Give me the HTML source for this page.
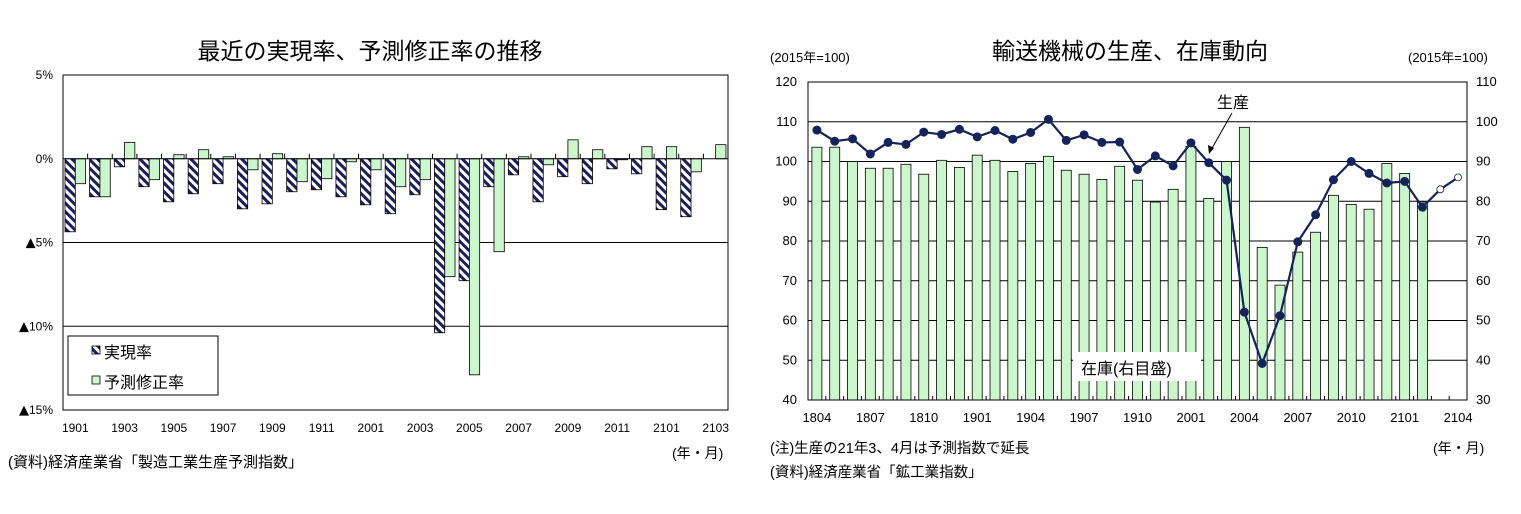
<!DOCTYPE html>
<html><head><meta charset="utf-8"><style>
body{margin:0;background:#fff;}
svg text{font-family:"Liberation Sans","Noto Sans CJK JP",sans-serif;fill:#000;}
</style></head><body>
<svg id="c" width="1521" height="509" xmlns="http://www.w3.org/2000/svg">
<defs>
<pattern id="hatch" patternUnits="userSpaceOnUse" width="6" height="6" patternTransform="rotate(45)">
<rect width="6" height="6" fill="#fff"/><rect width="6" height="3" fill="#1a1f5c"/>
</pattern>
</defs>
<g id="left"></g>
<g id="right"></g>
</svg>
<script>
// ---- Left chart data ----
const lCats = ['1901','1902','1903','1904','1905','1906','1907','1908','1909','1910','1911','1912','2001','2002','2003','2004','2005','2006','2007','2008','2009','2010','2011','2012','2101','2102','2103'];
const lReal = [-4.36,-2.27,-0.48,-1.67,-2.57,-2.09,-1.49,-2.99,-2.69,-1.97,-1.85,-2.27,-2.75,-3.28,-2.15,-10.39,-7.28,-1.67,-0.96,-2.57,-1.07,-1.49,-0.6,-0.9,-3.04,-3.46,null];
const lRev = [-1.49,-2.27,0.98,-1.25,0.24,0.54,0.12,-0.66,0.30,-1.37,-1.19,-0.18,-0.66,-1.67,-1.25,-7.04,-12.9,-5.55,0.12,-0.36,1.13,0.54,-0.06,0.72,0.72,-0.78,0.84];
const lTicks = [5,0,-5,-10,-15];
const lTickLabels = ['5%','0%','▲5%','▲10%','▲15%'];
const lXLabels = ['1901','1903','1905','1907','1909','1911','2001','2003','2005','2007','2009','2011','2101','2103'];
// ---- Right chart data ----
const rCats = ['1804','1805','1806','1807','1808','1809','1810','1811','1812','1901','1902','1903','1904','1905','1906','1907','1908','1909','1910','1911','1912','2001','2002','2003','2004','2005','2006','2007','2008','2009','2010','2011','2012','2101','2102','2103','2104'];
const rInv = [93.6,93.6,90.0,88.3,88.3,89.3,86.8,90.3,88.5,91.6,90.3,87.5,89.5,91.3,87.8,86.8,85.5,88.8,85.3,79.8,83.0,93.8,80.7,90.0,98.6,68.4,58.9,67.2,72.2,81.5,79.2,78.0,89.5,87.0,79.8,null,null];
const rProd = [107.9,105.1,105.7,101.9,104.8,104.3,107.4,106.8,108.1,106.2,107.8,105.6,107.3,110.6,105.3,106.7,104.8,104.9,98.0,101.4,98.9,104.7,99.7,95.3,62.1,49.2,61.2,79.8,86.6,95.4,100.0,97.0,94.6,95.0,88.5,93.0,96.0];
const rForecastFrom = 35;
const rLeftTicks = [40,50,60,70,80,90,100,110,120];
const rRightTicks = [30,40,50,60,70,80,90,100,110];
const rXLabels = ['1804','1807','1810','1901','1904','1907','1910','2001','2004','2007','2010','2101','2104'];

const NS='http://www.w3.org/2000/svg';
function mk(parent,tag,attrs,text){const e=document.createElementNS(NS,tag);for(const k in attrs)e.setAttribute(k,attrs[k]);if(text!=null)e.textContent=text;parent.appendChild(e);return e;}

// ===== LEFT =====
const L=document.getElementById('left');
const lx0=63,lx1=728,ly0=75,ly1=410;
const lY=v=>ly0+(5-v)*(ly1-ly0)/20;
const lSlot=(lx1-lx0)/lCats.length;
const lX=i=>lx0+i*lSlot;
let t=mk(L,'text',{x:370,y:59,'font-size':23,'text-anchor':'middle'},'最近の実現率、予測修正率の推移');

lTicks.forEach((v,i)=>{
  if(v<0&&v>-15){const g=mk(L,'line',{x1:lx0,x2:lx1,y1:lY(v),y2:lY(v),stroke:'#000','stroke-width':1});
  }
  const tl=mk(L,'text',{x:53,y:lY(v)+4,'font-size':12,'text-anchor':'end'});
  
  const lab=lTickLabels[i];
  if(lab[0]==='▲'){mk(tl,'tspan',{'font-family':'DejaVu Sans','font-size':13},'▲');mk(tl,'tspan',{},lab.slice(1));}
  else tl.textContent=lab;
});
lCats.forEach((c,i)=>{
  if(lReal[i]!=null){const v=lReal[i];const r=mk(L,'rect',{x:lX(i)+2,y:Math.min(lY(0),lY(v)),width:10.3,height:Math.abs(lY(v)-lY(0)),fill:'url(#hatch)',stroke:'#000','stroke-width':0.8});
  }
  const v2=lRev[i];const r2=mk(L,'rect',{x:lX(i)+12.3,y:Math.min(lY(0),lY(v2)),width:10.3,height:Math.abs(lY(v2)-lY(0)),fill:'#ccf7cc',stroke:'#000','stroke-width':0.8});
  
  const tk=mk(L,'line',{x1:lX(i+1),x2:lX(i+1),y1:lY(0),y2:lY(0)-5,stroke:'#000','stroke-width':1});
  
});
let zl=mk(L,'line',{x1:lx0,x2:lx1,y1:lY(0),y2:lY(0),stroke:'#000','stroke-width':1});

let fr=mk(L,'rect',{x:lx0,y:ly0,width:lx1-lx0,height:ly1-ly0,fill:'none',stroke:'#000','stroke-width':1});

lXLabels.forEach(c=>{const i=lCats.indexOf(c);const x=mk(L,'text',{x:lX(i)+lSlot/2,y:432,'font-size':12,'text-anchor':'middle'},c);
});
let lg=mk(L,'g',{});
mk(lg,'rect',{x:68,y:336,width:150,height:59,fill:'#fff',stroke:'#000','stroke-width':1});
let le1=mk(lg,'rect',{x:92,y:346,width:8,height:8,fill:'url(#hatch)',stroke:'#000','stroke-width':0.8});

mk(lg,'text',{x:104,y:358,'font-size':16},'実現率');
let le2=mk(lg,'rect',{x:92,y:376,width:8,height:8,fill:'#ccf7cc',stroke:'#000','stroke-width':0.8});

mk(lg,'text',{x:104,y:388,'font-size':16},'予測修正率');
t=mk(L,'text',{x:8,y:467,'font-size':15},'(資料)経済産業省「製造工業生産予測指数」');
t=mk(L,'text',{x:672,y:458,'font-size':14},'(年・月)');

// ===== RIGHT =====
const R=document.getElementById('right');
const rx0=808,rx1=1467,ry0=82,ry1=400;
const rYL=v=>ry0+(120-v)*(ry1-ry0)/80;
const rYR=v=>ry0+(110-v)*(ry1-ry0)/80;
const rSlot=(rx1-rx0)/rCats.length;
const rX=i=>rx0+(i+0.5)*rSlot;
t=mk(R,'text',{x:1130,y:59,'font-size':23,'text-anchor':'middle'},'輸送機械の生産、在庫動向');
t=mk(R,'text',{x:770,y:62,'font-size':13},'(2015年=100)');
t=mk(R,'text',{x:1408,y:62,'font-size':13},'(2015年=100)');
rLeftTicks.forEach((v,i)=>{
  const g=mk(R,'line',{x1:rx0,x2:rx1,y1:rYL(v),y2:rYL(v),stroke:'#000','stroke-width':1});
  const a=mk(R,'text',{x:797,y:rYL(v)+4,'font-size':13,'text-anchor':'end'},String(v));
  const rv=rRightTicks[i];const b=mk(R,'text',{x:1476,y:rYR(rv)+4,'font-size':13},String(rv));
});
rCats.forEach((c,i)=>{
  if(rInv[i]!=null){const b=mk(R,'rect',{x:rX(i)-5,y:rYR(rInv[i]),width:10,height:ry1-rYR(rInv[i]),fill:'#ccf7cc',stroke:'#000','stroke-width':0.8});
  }
  const tk=mk(R,'line',{x1:rx0+(i+1)*rSlot,x2:rx0+(i+1)*rSlot,y1:ry1,y2:ry1-4,stroke:'#000','stroke-width':1});
});
let pts=rProd.map((v,i)=>rX(i)+','+rYL(v)).join(' ');
let pl=mk(R,'polyline',{points:pts,fill:'none',stroke:'#14245a','stroke-width':2.2});
rProd.forEach((v,i)=>{const f=i>=rForecastFrom;const p=mk(R,'circle',{cx:rX(i),cy:rYL(v),r:f?3.5:4,fill:f?'#fff':'#14245a',stroke:'#14245a','stroke-width':f?0.8:1});
});
fr=mk(R,'rect',{x:rx0,y:ry0,width:rx1-rx0,height:ry1-ry0,fill:'none',stroke:'#000','stroke-width':1});
rXLabels.forEach(c=>{const i=rCats.indexOf(c);const x=mk(R,'text',{x:rX(i),y:422,'font-size':13,'text-anchor':'middle'},c);});
let bx=mk(R,'rect',{x:1073,y:352,width:128,height:29,fill:'#fff'});
t=mk(R,'text',{x:1081,y:374,'font-size':16},'在庫(右目盛)');
t=mk(R,'text',{x:1217,y:108,'font-size':16},'生産');
let ar=mk(R,'line',{x1:1232,y1:113,x2:1211,y2:150,stroke:'#000','stroke-width':1});
mk(R,'polygon',{points:'1209,154 1208,145 1214,148',fill:'#000'});
t=mk(R,'text',{x:770,y:453,'font-size':14.5},'(注)生産の21年3、4月は予測指数で延長');
t=mk(R,'text',{x:770,y:477,'font-size':14.5},'(資料)経済産業省「鉱工業指数」');
t=mk(R,'text',{x:1433,y:453,'font-size':14},'(年・月)');
</script>
</body></html>
